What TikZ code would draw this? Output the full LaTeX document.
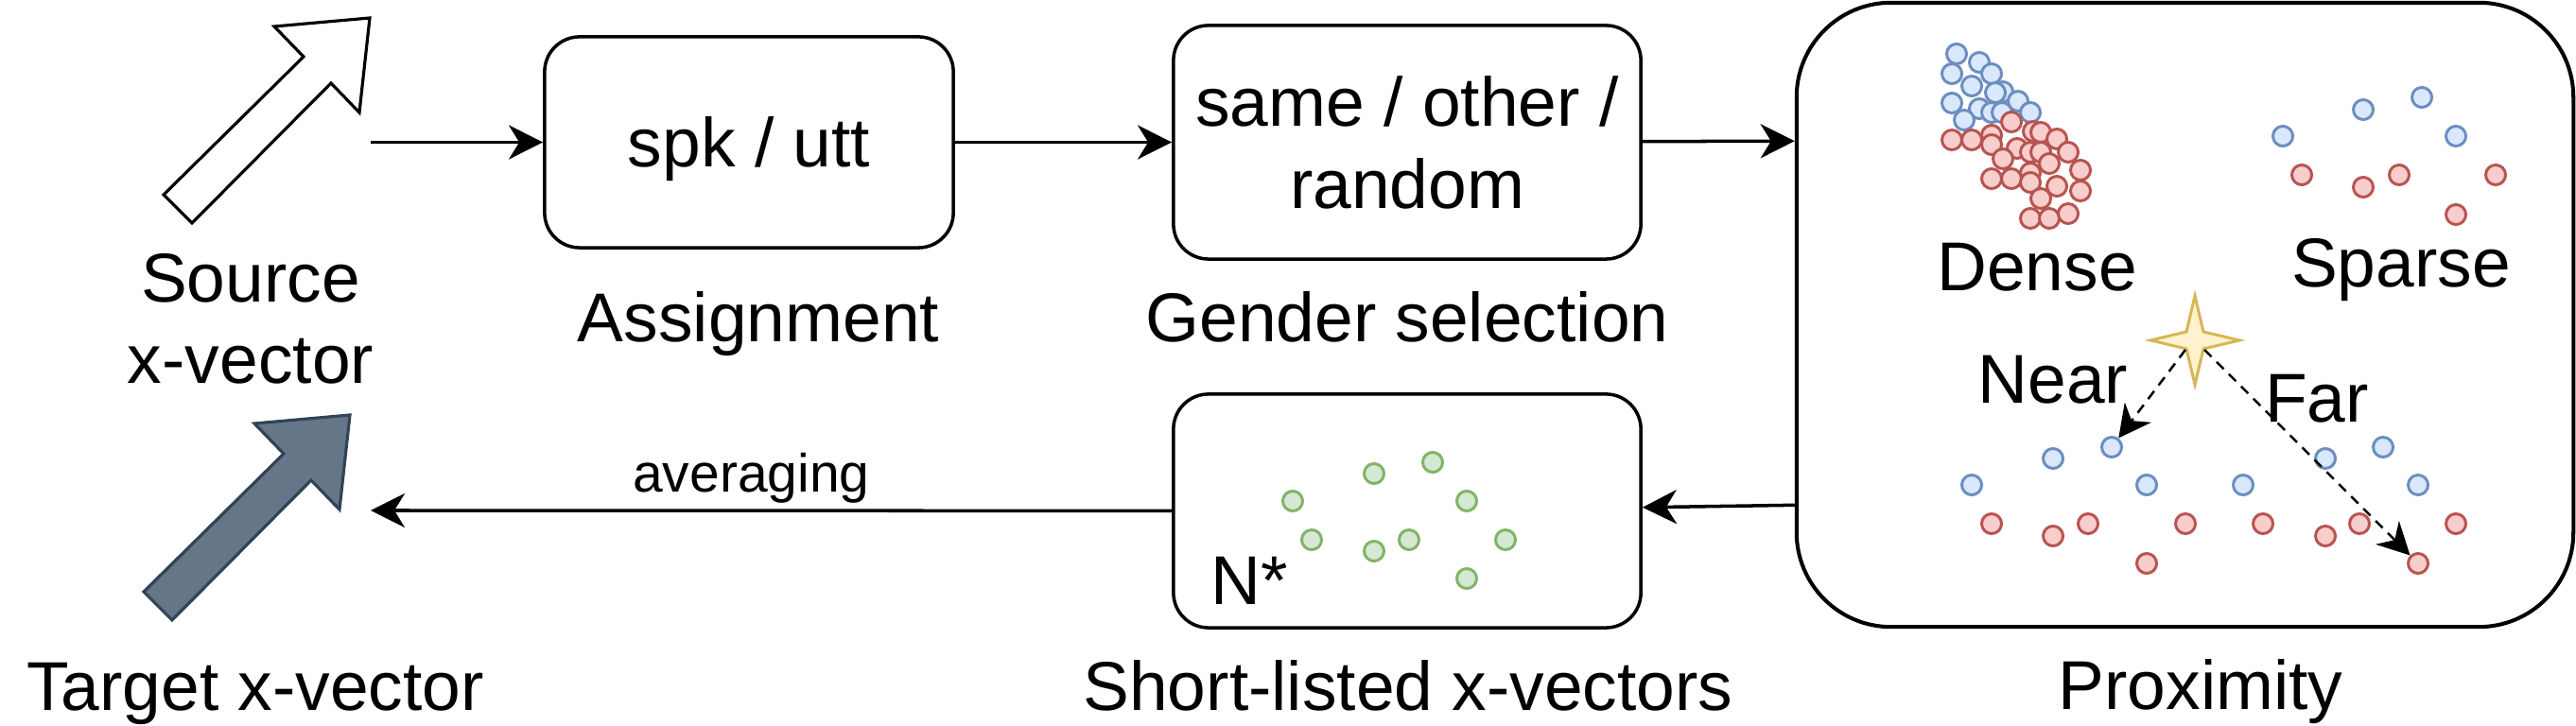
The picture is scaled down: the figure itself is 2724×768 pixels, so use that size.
\documentclass[tikz,border=0pt]{standalone}
\usepackage{fontspec}
\setmainfont{Liberation Sans}
\usetikzlibrary{arrows.meta,positioning}

\definecolor{bluefill}{HTML}{DAE8FC}
\definecolor{blueline}{HTML}{6C8EBF}
\definecolor{redfill}{HTML}{F8CECC}
\definecolor{redline}{HTML}{B85450}
\definecolor{greenfill}{HTML}{D5E8D4}
\definecolor{greenline}{HTML}{82B366}
\definecolor{starfill}{HTML}{FFF2CC}
\definecolor{starline}{HTML}{D6B656}
\definecolor{slatefill}{HTML}{647687}
\definecolor{slateline}{HTML}{314354}

\begin{document}
\begin{tikzpicture}[x=0.01cm, y=-0.01cm,
	font=\fontsize{20.8}{24.5}\selectfont,
	basic/.style   = {draw, line width=1pt, rounded corners=0.37cm, align=center, text depth=0pt},
	stage/.style   = {basic, minimum width=4.94cm, minimum height=2.47cm},
	caption/.style = {anchor=base, inner sep=0pt},
	vec/.style     = {circle, line width=0.85pt, minimum size=0.21cm, inner sep=0pt},
	bdot/.style    = {vec, draw=blueline, fill=bluefill},
	rdot/.style    = {vec, draw=redline, fill=redfill},
	gdot/.style    = {vec, draw=greenline, fill=greenfill},
	blockarrow/.style = {line width=0.9pt, line join=miter},
	probe/.style   = {->, line width=0.7pt, dash pattern=on 3pt off 2.2pt, >={Stealth[length=0.34cm, width=0.35cm, inset=0.11cm]}},
	>={Stealth[length=0.36cm, width=0.36cm, inset=0.11cm]}]

	\useasboundingbox (0,0) rectangle (2724,768);

	% source and target x-vectors
	\draw[blockarrow, fill=white] (173,206) -- (321,60) -- (290,28) -- (391,19) -- (380,119) -- (350,88) -- (203,236) -- cycle;
	\draw[blockarrow, draw=slateline, fill=slatefill, shift={(-21,420)}] (173,206) -- (321,60) -- (290,28) -- (391,19) -- (380,119) -- (350,88) -- (203,236) -- cycle;
	\node[align=center, inner sep=0pt] (srclbl) at (265,337) {Source\\x-vector};
	\node[caption] (tgtlbl) at (270,752) {Target x-vector};

	% pipeline boxes
	\node[basic, minimum width=4.32cm, minimum height=2.23cm] (assign) at (792,150.5) {spk / utt};
	\node[stage] (gender) at (1488,150.5) {same / other /\\random};
	\node[basic, rounded corners=1cm, line width=1.15pt, minimum width=8.21cm, minimum height=6.6cm] (prox) at (2310.5,333) {};
	\node[stage] (short) at (1488,540.5) {};

	\node[caption] (assignlbl) at (802,362) {Assignment};
	\node[caption] (genderlbl) at (1488,362) {Gender selection};
	\node[caption] (shortlbl) at (1489,752) {Short-listed x-vectors};
	\node[caption] (proxlbl) at (2327,751) {Proximity};
	\node[caption, anchor=base west] (nstar) at (1280,640) {N*};

	% proximity panel
	\node[caption] (dense) at (2154,308) {Dense};
	\node[caption] (sparse) at (2539,304) {Sparse};
	\node[caption] (near) at (2171,427) {Near};
	\node[caption] (far) at (2450,447) {Far};

	\foreach \x/\y [count=\i] in {2069/57, 2093/66, 2064/78, 2106/78, 2085/91, 2064/109, 2118/97, 2110/98, 2134/107, 2093/115, 2106/119, 2117/119, 2147/119, 2077/127}
		\node[bdot] (db\i) at (\x,\y) {};
	\foreach \x/\y [count=\i] in {2064/148, 2085/148, 2106/143, 2106/153, 2127/129, 2150/139, 2158/140, 2175/147, 2133/157, 2147/161, 2158/161, 2187/161, 2118/168, 2167/173, 2200/180, 2106/189, 2127/189, 2147/183, 2147/193, 2175/197, 2200/202, 2158/210, 2147/231, 2167/231, 2187/226}
		\node[rdot] (dr\i) at (\x,\y) {};

	\foreach \x/\y [count=\i] in {2414/144, 2499/116, 2561/103, 2597/144}
		\node[bdot] (sb\i) at (\x,\y) {};
	\foreach \x/\y [count=\i] in {2434/185, 2499/198, 2537/185, 2639/185, 2597/227}
		\node[rdot] (sr\i) at (\x,\y) {};

	\foreach \x/\y [count=\i] in {2085/513, 2171/485, 2233/473, 2270/513, 2372/513, 2459/485, 2520/473, 2557/513}
		\node[bdot] (nb\i) at (\x,\y) {};
	\foreach \x/\y [count=\i] in {2106/554, 2171/567, 2208/554, 2311/554, 2393/554, 2459/567, 2495/554, 2597/554, 2270/596, 2557/596}
		\node[rdot] (nr\i) at (\x,\y) {};

	% query point
	\coordinate (q) at (2321,360);
	\draw[draw=starline, fill=starfill, line width=0.85pt, line join=miter, shift={(q)}]
		(0,-47) -- (9,-9) -- (47,0) -- (9,9) -- (0,47) -- (-9,9) -- (-47,0) -- (-9,-9) -- cycle;
	\coordinate (qnear) at (2311,370);
	\coordinate (qfar) at (2331,370);
	\draw[probe] (qnear) -- (nb3);
	\draw[probe] (qfar) -- (nr10);

	% short-listed x-vectors
	\foreach \x/\y [count=\i] in {1367/530, 1453/501, 1515/489, 1551/530, 1387/571, 1453/583, 1490/571, 1592/571, 1551/612}
		\node[gdot] (g\i) at (\x,\y) {};

	% connectors
	\coordinate (srcout) at (392,150.5);
	\coordinate (tgtin) at (392,540);
	\draw[->, line width=1pt] (srcout) -- (assign);
	\draw[->, line width=1pt] (assign) -- (gender);
	\draw[->, line width=1pt] (gender) -- (prox.156);
	\draw[->, line width=1pt] (prox.206) -- (short);
	\draw[->, line width=1pt] (short) -- node[pos=0.525, anchor=base, yshift=0.2cm, inner sep=0pt, font=\fontsize{16.2}{19}\selectfont] (avg) {averaging} (tgtin);

\end{tikzpicture}
\end{document}
